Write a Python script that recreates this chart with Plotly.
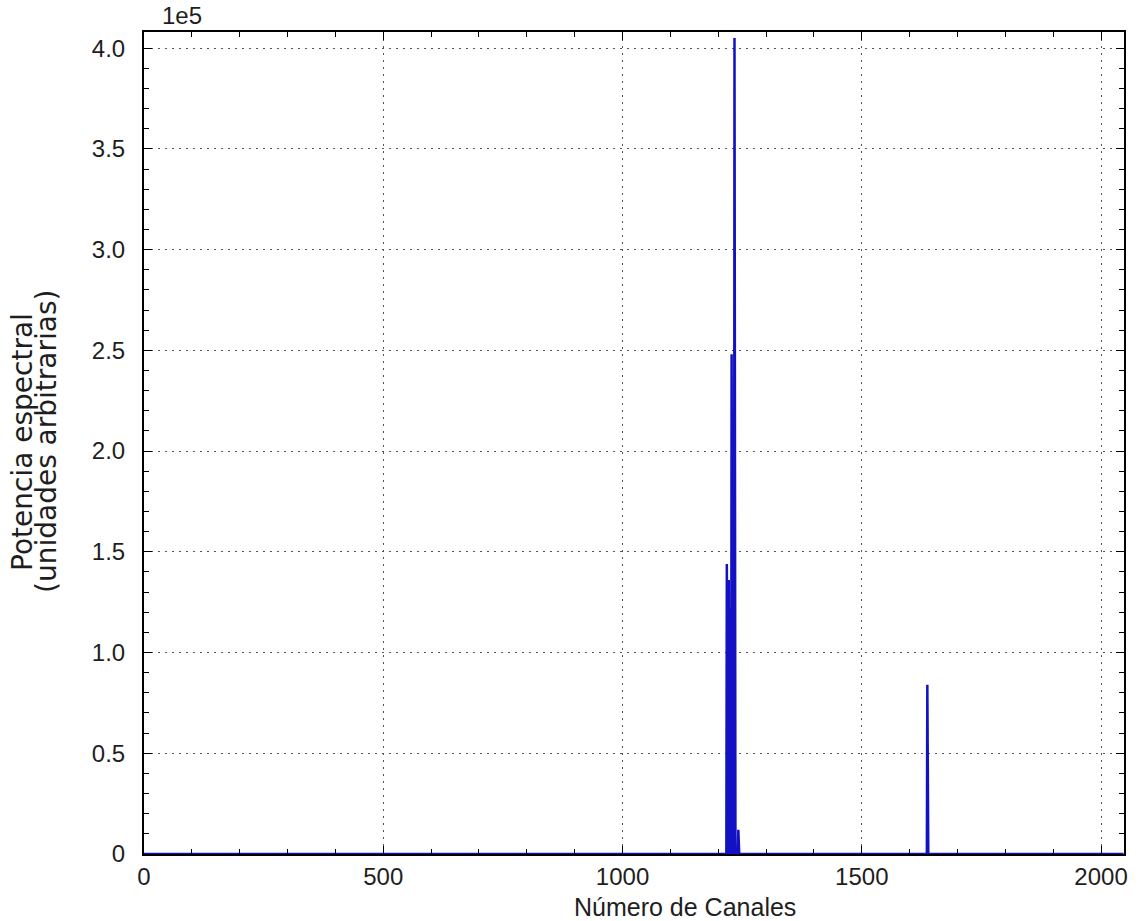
import numpy as np
import plotly.graph_objects as go

# Data
n_channels = 2048
peak_channels = [1217, 1218, 1222, 1224, 1226, 1228, 1234, 1236, 1241, 1242, 1243, 1636, 1637, 1638]
peak_values = [0, 144000, 136000, 0, 122000, 248000, 405000, 0, 0, 12000, 0, 0, 84000, 0]

y_tickvals = [0, 50000, 100000, 150000, 200000, 250000, 300000, 350000, 400000]
y_ticktext = ["0", "0.5", "1.0", "1.5", "2.0", "2.5", "3.0", "3.5", "4.0"]
x_tickvals = [0, 500, 1000, 1500, 2000]
x_ticktext = ["0", "500", "1000", "1500", "2000"]

x_title = "Número de Canales"
y_title_lines = ["Potencia espectral", "(unidades arbitrarias)"]

channels = np.arange(n_channels)
spectrum = np.zeros(n_channels)
for c, v in zip(peak_channels, peak_values):
    spectrum[c] = v

fig = go.Figure()
fig.add_trace(go.Scatter(x=channels, y=spectrum, mode="lines",
                         line=dict(color="#1212c4", width=2.5), showlegend=False,
                         hoverinfo="x+y"))

font = "Liberation Sans, Arial, sans-serif"
txt_color = "#1e1e1e"
axis_common = dict(
    showline=True, linecolor="black", linewidth=2, mirror="ticks",
    ticks="inside", ticklen=8, tickwidth=1, tickcolor="black",
    showgrid=True, gridcolor="#555555", griddash="2px,5px", gridwidth=1,
    zeroline=False,
    tickfont=dict(family=font, size=24, color=txt_color),
)

fig.update_xaxes(range=[0, 2048], tickvals=x_tickvals, ticktext=x_ticktext,
                 minor=dict(ticks="inside", ticklen=5, tickcolor="black", dtick=100, tick0=0, showgrid=False),
                 ticklabelstandoff=0,
                 **axis_common)
fig.update_yaxes(range=[0, 408000], tickvals=y_tickvals, ticktext=y_ticktext,
                 minor=dict(ticks="inside", ticklen=5, tickcolor="black", dtick=10000, tick0=0, showgrid=False),
                 ticklabelstandoff=12,
                 **axis_common)

# plot area in pixels: left 144, right 1124, top 32, bottom 854
def px_x(p):
    return (p - 144) / 980.0

def px_y(p):
    return (854 - p) / 822.0

fig.add_annotation(text="1e5", xref="paper", yref="paper", x=px_x(160), y=px_y(31),
                   xanchor="left", yanchor="bottom", showarrow=False,
                   font=dict(family=font, size=24, color=txt_color))

fig.add_annotation(text=x_title, xref="paper", yref="paper", x=px_x(685), y=px_y(907),
                   xanchor="center", yanchor="middle", showarrow=False,
                   font=dict(family=font, size=25, color=txt_color))

for line_txt, cx in zip(y_title_lines, [23, 47]):
    fig.add_annotation(text=line_txt, xref="paper", yref="paper", x=px_x(cx), y=px_y(442),
                       xanchor="center", yanchor="middle", showarrow=False, textangle=-90,
                       font=dict(family="DejaVu Sans, sans-serif", size=28, color=txt_color))

fig.update_layout(width=1142, height=921, paper_bgcolor="white", plot_bgcolor="white",
                  margin=dict(l=144, r=18, t=32, b=67))

fig.write_html("out.html")
